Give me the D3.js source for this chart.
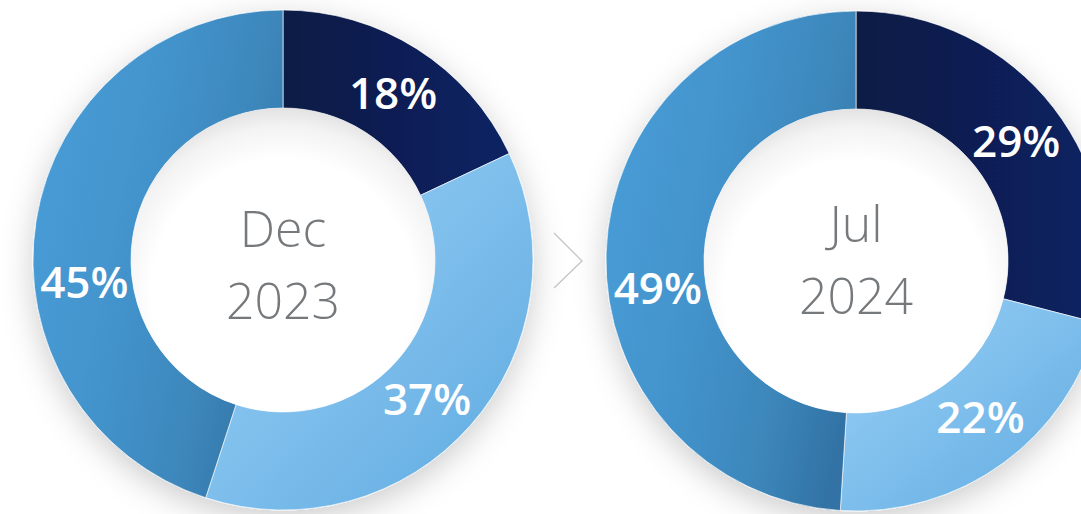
<!DOCTYPE html>
<html>
<head>
<meta charset="utf-8">
<script src="https://cdn.jsdelivr.net/npm/d3@7"></script>
<style>
  html, body { margin: 0; padding: 0; background: #ffffff; overflow: hidden; }
  svg { display: block; }
</style>
</head>
<body>
<div id="chart"></div>
<script>
// ---- Data ----
const segments = ["Segment 1", "Segment 2", "Segment 3"];
const periodMonths = ["Dec", "Jul"];
const periodYears = ["2023", "2024"];
const dec2023Values = [18, 37, 45];
const jul2024Values = [29, 22, 49];

// ---- Layout / style ----
const W = 1081, H = 514;
const outerR = 250, innerR = 152;
const charts = [
  { values: dec2023Values, month: periodMonths[0], year: periodYears[0], cx: 283, cy: 260, textShift: 0, labelNudge: [1, 2.5, -15.5] },
  { values: jul2024Values, month: periodMonths[1], year: periodYears[1], cx: 856, cy: 261, textShift: -6, labelNudge: [1, -2.5, -9.5] }
];
const labelR = 200;

const svg = d3.select("#chart").append("svg").attr("width", W).attr("height", H);
const defs = svg.append("defs");

// shadow
const f = defs.append("filter").attr("id", "shadow")
  .attr("x", "-25%").attr("y", "-25%").attr("width", "150%").attr("height", "150%");
f.append("feDropShadow").attr("dx", 0).attr("dy", 9).attr("stdDeviation", 16)
  .attr("flood-color", "#000").attr("flood-opacity", 0.2);

function linGrad(id, x1, y1, x2, y2, stops) {
  const g = defs.append("linearGradient").attr("id", id)
    .attr("x1", x1).attr("y1", y1).attr("x2", x2).attr("y2", y2);
  stops.forEach(s => g.append("stop").attr("offset", s[0]).attr("stop-color", s[1]));
}
linGrad("g0", 0, 0, 1, 0, [[0, "#0e1d45"], [1, "#0a2163"]]);
linGrad("g1", 0, 0, 1, 1, [[0, "#9ad0f6"], [0.45, "#80c0ed"], [1, "#5eaae0"]]);
linGrad("g2", 0, 0.3, 1, 0.7, [[0, "#489cd6"], [0.4, "#4393cc"], [0.75, "#3c86ba"], [1, "#3272a4"]]);
const fills = ["url(#g0)", "url(#g1)", "url(#g2)"];

const rg = defs.append("radialGradient").attr("id", "inner")
  .attr("cx", 0.5).attr("cy", 0.6).attr("r", 0.6);
rg.append("stop").attr("offset", 0).attr("stop-color", "#ffffff");
rg.append("stop").attr("offset", 0.72).attr("stop-color", "#ffffff");
rg.append("stop").attr("offset", 0.9).attr("stop-color", "#f3f3f3");
rg.append("stop").attr("offset", 1).attr("stop-color", "#e3e3e3");

const pie = d3.pie().sort(null).value(d => d);
const arc = d3.arc().innerRadius(innerR).outerRadius(outerR);
const toRad = Math.PI / 180;

charts.forEach(c => {
  const g = svg.append("g").attr("transform", `translate(${c.cx},${c.cy})`);
  const ring = g.append("g").attr("filter", "url(#shadow)");
  const arcs = pie(c.values);
  ring.selectAll("path").data(arcs).join("path")
    .attr("d", arc)
    .attr("fill", (d, i) => fills[i])
    .attr("stroke", "#ffffff").attr("stroke-width", 0.8).attr("stroke-opacity", 0.8);

  g.append("circle").attr("r", innerR).attr("fill", "url(#inner)");

  g.selectAll("text.lbl").data(arcs).join("text").attr("class", "lbl")
    .attr("transform", (d, i) => {
      const a = (d.startAngle + d.endAngle) / 2 + c.labelNudge[i] * toRad;
      return `translate(${labelR * Math.sin(a)},${-labelR * Math.cos(a)})`;
    })
    .attr("dy", "0.36em")
    .attr("text-anchor", "middle")
    .attr("font-family", "'Open Sans', sans-serif")
    .attr("font-weight", 600)
    .attr("font-size", 44)
    .attr("fill", "#ffffff")
    .text(d => d.value + "%");

  const t = g.append("text").attr("text-anchor", "middle")
    .attr("font-family", "'Open Sans', sans-serif")
    .attr("font-weight", 300)
    .attr("font-size", 50)
    .attr("fill", "#76797c");
  t.append("tspan").attr("x", 0).attr("y", -13 + c.textShift).text(c.month);
  t.append("tspan").attr("x", 0).attr("y", 59 + c.textShift).text(c.year);
});

// chevron
svg.append("path")
  .attr("d", "M554,233 L582,261 L554,288")
  .attr("fill", "none").attr("stroke", "#c4c4c4").attr("stroke-width", 1.3);
</script>
</body>
</html>
